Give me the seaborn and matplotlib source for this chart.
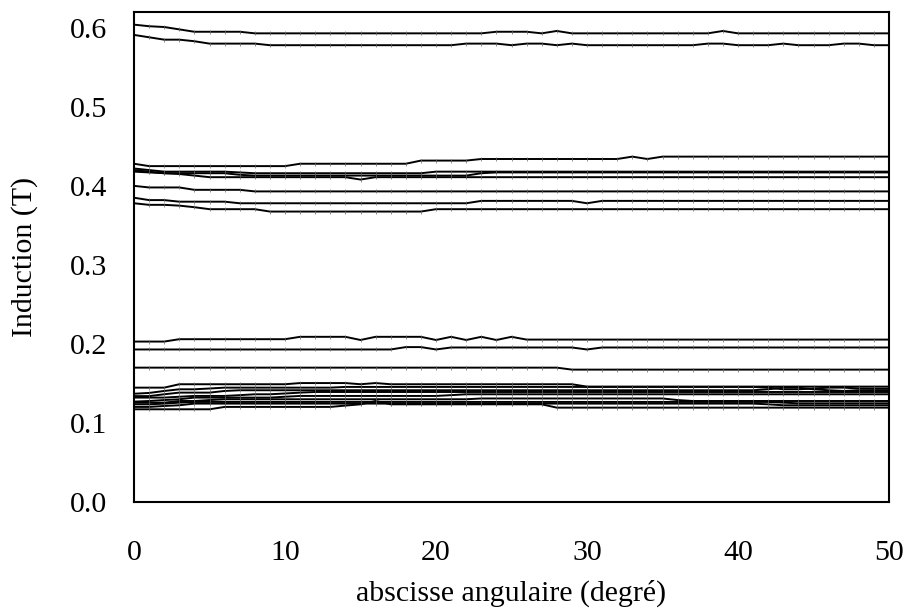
import numpy as np
import pandas as pd
import matplotlib
matplotlib.use("Agg")
import matplotlib.pyplot as plt
import seaborn as sns
from matplotlib.ticker import FormatStrFormatter

# Angular abscissa (degrees), one sample per degree
deg = list(range(0, 51))

# Induction along each flux path (T)
haut_1 = [0.604, 0.602, 0.601, 0.598, 0.595, 0.595, 0.595, 0.595, 0.593, 0.593,
          0.593, 0.593, 0.593, 0.593, 0.593, 0.593, 0.593, 0.593, 0.593, 0.593,
          0.593, 0.593, 0.593, 0.593, 0.595, 0.595, 0.595, 0.593, 0.596, 0.593,
          0.593, 0.593, 0.593, 0.593, 0.593, 0.593, 0.593, 0.593, 0.593, 0.596,
          0.593, 0.593, 0.593, 0.593, 0.593, 0.593, 0.593, 0.593, 0.593, 0.593,
          0.593]
haut_2 = [0.591, 0.588, 0.585, 0.585, 0.583, 0.580, 0.580, 0.580, 0.580, 0.578,
          0.578, 0.578, 0.578, 0.578, 0.578, 0.578, 0.578, 0.578, 0.578, 0.578,
          0.578, 0.578, 0.580, 0.580, 0.580, 0.578, 0.580, 0.580, 0.578, 0.580,
          0.578, 0.578, 0.578, 0.578, 0.578, 0.578, 0.578, 0.578, 0.580, 0.580,
          0.578, 0.578, 0.578, 0.580, 0.578, 0.578, 0.578, 0.580, 0.580, 0.578,
          0.578]
milieu_1 = [0.428, 0.425, 0.425, 0.425, 0.425, 0.425, 0.425, 0.425, 0.425, 0.425,
            0.425, 0.428, 0.428, 0.428, 0.428, 0.428, 0.428, 0.428, 0.428, 0.432,
            0.432, 0.432, 0.432, 0.434, 0.434, 0.434, 0.434, 0.434, 0.434, 0.434,
            0.434, 0.434, 0.434, 0.437, 0.434, 0.437, 0.437, 0.437, 0.437, 0.437,
            0.437, 0.437, 0.437, 0.437, 0.437, 0.437, 0.437, 0.437, 0.437, 0.437,
            0.437]
milieu_2 = [0.422, 0.420, 0.418, 0.418, 0.418, 0.418, 0.418, 0.417, 0.416, 0.416,
            0.416, 0.416, 0.416, 0.416, 0.416, 0.416, 0.416, 0.416, 0.416, 0.416,
            0.418, 0.418, 0.418, 0.418, 0.418, 0.418, 0.418, 0.418, 0.418, 0.418,
            0.418, 0.418, 0.418, 0.418, 0.418, 0.418, 0.418, 0.418, 0.418, 0.418,
            0.418, 0.418, 0.418, 0.418, 0.418, 0.418, 0.418, 0.418, 0.418, 0.418,
            0.418]
milieu_3 = [0.420, 0.418, 0.416, 0.416, 0.416, 0.416, 0.416, 0.414, 0.413, 0.413,
            0.413, 0.413, 0.413, 0.413, 0.413, 0.413, 0.413, 0.413, 0.413, 0.413,
            0.413, 0.413, 0.413, 0.416, 0.417, 0.417, 0.417, 0.417, 0.417, 0.417,
            0.417, 0.417, 0.417, 0.417, 0.417, 0.417, 0.417, 0.417, 0.417, 0.417,
            0.417, 0.417, 0.417, 0.417, 0.417, 0.417, 0.417, 0.417, 0.417, 0.417,
            0.417]
milieu_4 = [0.418, 0.417, 0.416, 0.415, 0.413, 0.411, 0.411, 0.411, 0.411, 0.411,
            0.411, 0.411, 0.411, 0.411, 0.411, 0.408, 0.411, 0.411, 0.411, 0.411,
            0.411, 0.411, 0.411, 0.411, 0.411, 0.411, 0.411, 0.411, 0.411, 0.411,
            0.411, 0.411, 0.411, 0.411, 0.411, 0.411, 0.411, 0.411, 0.411, 0.411,
            0.411, 0.411, 0.411, 0.411, 0.411, 0.411, 0.411, 0.411, 0.411, 0.411,
            0.411]
milieu_5 = [0.400, 0.398, 0.398, 0.398, 0.395, 0.395, 0.395, 0.395, 0.393, 0.393,
            0.393, 0.393, 0.393, 0.393, 0.393, 0.393, 0.393, 0.393, 0.393, 0.393,
            0.393, 0.393, 0.393, 0.393, 0.393, 0.393, 0.393, 0.393, 0.393, 0.393,
            0.393, 0.393, 0.393, 0.393, 0.393, 0.393, 0.393, 0.393, 0.393, 0.393,
            0.393, 0.393, 0.393, 0.393, 0.393, 0.393, 0.393, 0.393, 0.393, 0.393,
            0.393]
milieu_6 = [0.385, 0.382, 0.382, 0.380, 0.380, 0.380, 0.380, 0.378, 0.378, 0.378,
            0.378, 0.378, 0.378, 0.378, 0.378, 0.378, 0.378, 0.378, 0.378, 0.378,
            0.378, 0.378, 0.378, 0.381, 0.381, 0.381, 0.381, 0.381, 0.381, 0.381,
            0.378, 0.381, 0.381, 0.381, 0.381, 0.381, 0.381, 0.381, 0.381, 0.381,
            0.381, 0.381, 0.381, 0.381, 0.381, 0.381, 0.381, 0.381, 0.381, 0.381,
            0.381]
milieu_7 = [0.378, 0.376, 0.376, 0.375, 0.373, 0.3705, 0.3705, 0.3705, 0.3705, 0.3675,
            0.3675, 0.3675, 0.3675, 0.3675, 0.3675, 0.3675, 0.3675, 0.3675, 0.3675, 0.3675,
            0.3705, 0.3705, 0.3705, 0.3705, 0.3705, 0.3705, 0.3705, 0.3705, 0.3705, 0.3705,
            0.3705, 0.3705, 0.3705, 0.3705, 0.3705, 0.3705, 0.3705, 0.3705, 0.3705, 0.3705,
            0.3705, 0.3705, 0.3705, 0.3705, 0.3705, 0.3705, 0.3705, 0.3705, 0.3705, 0.3705,
            0.3705]
bas_1 = [0.203, 0.203, 0.203, 0.206, 0.206, 0.206, 0.206, 0.206, 0.206, 0.206,
         0.206, 0.209, 0.209, 0.209, 0.209, 0.205, 0.209, 0.209, 0.209, 0.209,
         0.205, 0.209, 0.205, 0.209, 0.205, 0.209, 0.2055, 0.2055, 0.2055, 0.2055,
         0.2055, 0.2055, 0.2055, 0.2055, 0.2055, 0.2055, 0.2055, 0.2055, 0.2055, 0.2055,
         0.2055, 0.2055, 0.2055, 0.2055, 0.2055, 0.2055, 0.2055, 0.2055, 0.2055, 0.2055,
         0.2055]
bas_2 = [0.193, 0.193, 0.193, 0.193, 0.193, 0.193, 0.193, 0.193, 0.193, 0.193,
         0.193, 0.193, 0.193, 0.193, 0.193, 0.193, 0.193, 0.193, 0.196, 0.196,
         0.193, 0.1955, 0.1955, 0.1955, 0.1955, 0.1955, 0.1955, 0.1955, 0.1955, 0.1955,
         0.193, 0.1955, 0.1955, 0.1955, 0.1955, 0.1955, 0.1955, 0.1955, 0.1955, 0.1955,
         0.1955, 0.1955, 0.1955, 0.1955, 0.1955, 0.1955, 0.1955, 0.1955, 0.1955, 0.1955,
         0.1955]
bas_3 = [0.170, 0.170, 0.170, 0.170, 0.170, 0.170, 0.170, 0.170, 0.170, 0.170,
         0.170, 0.170, 0.170, 0.170, 0.170, 0.170, 0.170, 0.170, 0.170, 0.170,
         0.170, 0.170, 0.170, 0.170, 0.170, 0.170, 0.170, 0.170, 0.170, 0.1675,
         0.1675, 0.1675, 0.1675, 0.1675, 0.1675, 0.1675, 0.1675, 0.1675, 0.1675, 0.1675,
         0.1675, 0.1675, 0.1675, 0.1675, 0.1675, 0.1675, 0.1675, 0.1675, 0.1675, 0.1675,
         0.1675]
fond_1 = [0.1447, 0.1447, 0.1447, 0.149, 0.149, 0.149, 0.149, 0.149, 0.149, 0.149,
          0.149, 0.1505, 0.1505, 0.1505, 0.1505, 0.149, 0.1505, 0.149, 0.149, 0.149,
          0.149, 0.149, 0.149, 0.149, 0.149, 0.149, 0.149, 0.149, 0.149, 0.149,
          0.146, 0.146, 0.146, 0.146, 0.146, 0.146, 0.146, 0.146, 0.146, 0.146,
          0.146, 0.146, 0.146, 0.146, 0.146, 0.146, 0.146, 0.146, 0.146, 0.146,
          0.146]
fond_2 = [0.137, 0.138, 0.1405, 0.1426, 0.1426, 0.1436, 0.1447, 0.1447, 0.1447, 0.1447,
          0.1447, 0.1447, 0.1447, 0.1447, 0.1456, 0.1456, 0.1456, 0.1456, 0.1456, 0.1456,
          0.1456, 0.1456, 0.1456, 0.1456, 0.1456, 0.1456, 0.1456, 0.1456, 0.1456, 0.1456,
          0.1456, 0.1456, 0.1456, 0.1456, 0.1456, 0.1456, 0.1456, 0.1456, 0.1456, 0.1456,
          0.1456, 0.1456, 0.1447, 0.1426, 0.1426, 0.1436, 0.1447, 0.1447, 0.1436, 0.1434,
          0.1434]
fond_3 = [0.134, 0.134, 0.1363, 0.1384, 0.1384, 0.1384, 0.1405, 0.1414, 0.1414, 0.1414,
          0.1414, 0.1414, 0.1414, 0.1414, 0.1414, 0.1414, 0.1414, 0.1414, 0.1414, 0.1414,
          0.1414, 0.1414, 0.1414, 0.1414, 0.1414, 0.1414, 0.1414, 0.1414, 0.1414, 0.1414,
          0.1414, 0.1414, 0.1414, 0.1414, 0.1414, 0.1414, 0.1414, 0.1414, 0.1414, 0.1414,
          0.1414, 0.1414, 0.1426, 0.1447, 0.1447, 0.1426, 0.1414, 0.1405, 0.1414, 0.1414,
          0.1414]
fond_4 = [0.1321, 0.1321, 0.1321, 0.1332, 0.1342, 0.1342, 0.1342, 0.1352, 0.1363, 0.1363,
          0.1373, 0.1384, 0.1392, 0.1392, 0.1392, 0.1392, 0.1392, 0.1392, 0.1392, 0.1392,
          0.1392, 0.1392, 0.1392, 0.1392, 0.1392, 0.1392, 0.1392, 0.1392, 0.1392, 0.1392,
          0.1392, 0.1392, 0.1392, 0.1392, 0.1392, 0.1392, 0.1392, 0.1392, 0.1392, 0.1392,
          0.1392, 0.1392, 0.1392, 0.1392, 0.1392, 0.1392, 0.1392, 0.1392, 0.1392, 0.1392,
          0.1392]
fond_5 = [0.127, 0.1278, 0.129, 0.130, 0.1321, 0.1321, 0.1321, 0.1321, 0.1321, 0.1321,
          0.1332, 0.1342, 0.1342, 0.1342, 0.1342, 0.1342, 0.1342, 0.1342, 0.1342, 0.1342,
          0.1342, 0.1352, 0.1363, 0.1363, 0.1363, 0.1363, 0.1363, 0.1363, 0.1363, 0.1363,
          0.1363, 0.1363, 0.1363, 0.1363, 0.1363, 0.1363, 0.1363, 0.1363, 0.1363, 0.1363,
          0.1363, 0.1363, 0.1363, 0.1363, 0.1363, 0.1363, 0.1363, 0.1363, 0.1363, 0.1363,
          0.1363]
fond_6 = [0.1257, 0.1257, 0.1257, 0.1278, 0.1278, 0.129, 0.130, 0.130, 0.130, 0.130,
          0.130, 0.130, 0.130, 0.130, 0.130, 0.130, 0.130, 0.130, 0.130, 0.130,
          0.130, 0.130, 0.130, 0.131, 0.131, 0.131, 0.131, 0.131, 0.131, 0.131,
          0.131, 0.131, 0.131, 0.131, 0.131, 0.131, 0.129, 0.1278, 0.1278, 0.1278,
          0.1278, 0.1278, 0.1278, 0.1278, 0.1278, 0.1278, 0.1278, 0.1278, 0.1278, 0.1278,
          0.1278]
fond_7 = [0.1236, 0.1236, 0.1245, 0.1257, 0.1266, 0.1266, 0.1266, 0.1266, 0.1266, 0.1266,
          0.1266, 0.1266, 0.1266, 0.1266, 0.1266, 0.1266, 0.1266, 0.1266, 0.1266, 0.1266,
          0.1266, 0.1266, 0.1266, 0.1266, 0.1266, 0.1266, 0.1266, 0.1266, 0.1266, 0.1266,
          0.1266, 0.1266, 0.1266, 0.1266, 0.1266, 0.1266, 0.1266, 0.1266, 0.1266, 0.1266,
          0.1266, 0.1266, 0.1266, 0.1257, 0.1249, 0.1249, 0.1249, 0.1249, 0.1249, 0.1249,
          0.1249]
fond_8 = [0.1203, 0.1203, 0.1215, 0.1224, 0.1245, 0.1245, 0.1245, 0.1245, 0.1245, 0.1245,
          0.1245, 0.1245, 0.1245, 0.1245, 0.1245, 0.1245, 0.1245, 0.1245, 0.1245, 0.1245,
          0.1245, 0.1245, 0.1245, 0.1245, 0.1245, 0.1245, 0.1245, 0.1245, 0.1245, 0.1245,
          0.1245, 0.1245, 0.1245, 0.1245, 0.1245, 0.1245, 0.1245, 0.1245, 0.1245, 0.1245,
          0.1245, 0.1245, 0.1236, 0.1224, 0.1224, 0.1224, 0.1224, 0.1224, 0.1224, 0.1224,
          0.1224]
fond_9 = [0.1173, 0.1173, 0.1173, 0.1173, 0.1173, 0.1173, 0.1203, 0.1203, 0.1203, 0.1203,
          0.1203, 0.1203, 0.1203, 0.1203, 0.122, 0.1236, 0.1278, 0.1236, 0.1236, 0.1236,
          0.1236, 0.1236, 0.1236, 0.1236, 0.1236, 0.1236, 0.1236, 0.1236, 0.1194, 0.1194,
          0.1194, 0.1194, 0.1194, 0.1194, 0.1194, 0.1194, 0.1194, 0.1194, 0.1194, 0.1194,
          0.1194, 0.1194, 0.1194, 0.1194, 0.1194, 0.1194, 0.1194, 0.1194, 0.1194, 0.1194,
          0.1194]

courbes = {
    "haut_1": haut_1, "haut_2": haut_2,
    "milieu_1": milieu_1, "milieu_2": milieu_2, "milieu_3": milieu_3,
    "milieu_4": milieu_4, "milieu_5": milieu_5, "milieu_6": milieu_6,
    "milieu_7": milieu_7,
    "bas_1": bas_1, "bas_2": bas_2, "bas_3": bas_3,
    "fond_1": fond_1, "fond_2": fond_2, "fond_3": fond_3, "fond_4": fond_4,
    "fond_5": fond_5, "fond_6": fond_6, "fond_7": fond_7, "fond_8": fond_8,
    "fond_9": fond_9,
}

x_ticks = [0, 10, 20, 30, 40, 50]
y_ticks = [0.0, 0.1, 0.2, 0.3, 0.4, 0.5, 0.6]

df = pd.concat(
    [pd.DataFrame({"deg": deg, "induction": vals, "courbe": name})
     for name, vals in courbes.items()],
    ignore_index=True,
)

sns.set_style("white")
plt.rcParams["font.family"] = ["Liberation Serif", "DejaVu Serif"]
plt.rcParams["text.color"] = "black"
plt.rcParams["axes.labelcolor"] = "black"

fig = plt.figure(figsize=(9.07, 6.10), dpi=100)
ax = fig.add_axes([134 / 907, 1 - 502 / 610, 755 / 907, 490 / 610])

sns.lineplot(
    data=df, x="deg", y="induction", units="courbe", estimator=None,
    color="black", linewidth=1.4, marker="|", markersize=3,
    markeredgewidth=0.5, markeredgecolor="#666666",
    sort=False, legend=False, ax=ax,
)

ax.set_xlim(0, 50)
ax.set_ylim(0, 0.62)
ax.set_xticks(x_ticks)
ax.set_yticks(y_ticks)
ax.yaxis.set_major_formatter(FormatStrFormatter("%.1f"))

ax.tick_params(axis="both", direction="in", length=8, width=1.5,
               labelsize=21.5, colors="black", labelcolor="black",
               top=False, right=False)
ax.tick_params(axis="x", pad=27)
ax.tick_params(axis="y", pad=19)

for side in ["left", "right", "top", "bottom"]:
    ax.spines[side].set_visible(True)
    ax.spines[side].set_color("black")
    ax.spines[side].set_linewidth(1.5)

ax.set_xlabel("abscisse angulaire (degré)", fontsize=21.5, labelpad=10,
              color="black")
ax.set_ylabel("Induction (T)", fontsize=21.5, labelpad=23, color="black")

fig.savefig("out.png", dpi=100, facecolor="white")
